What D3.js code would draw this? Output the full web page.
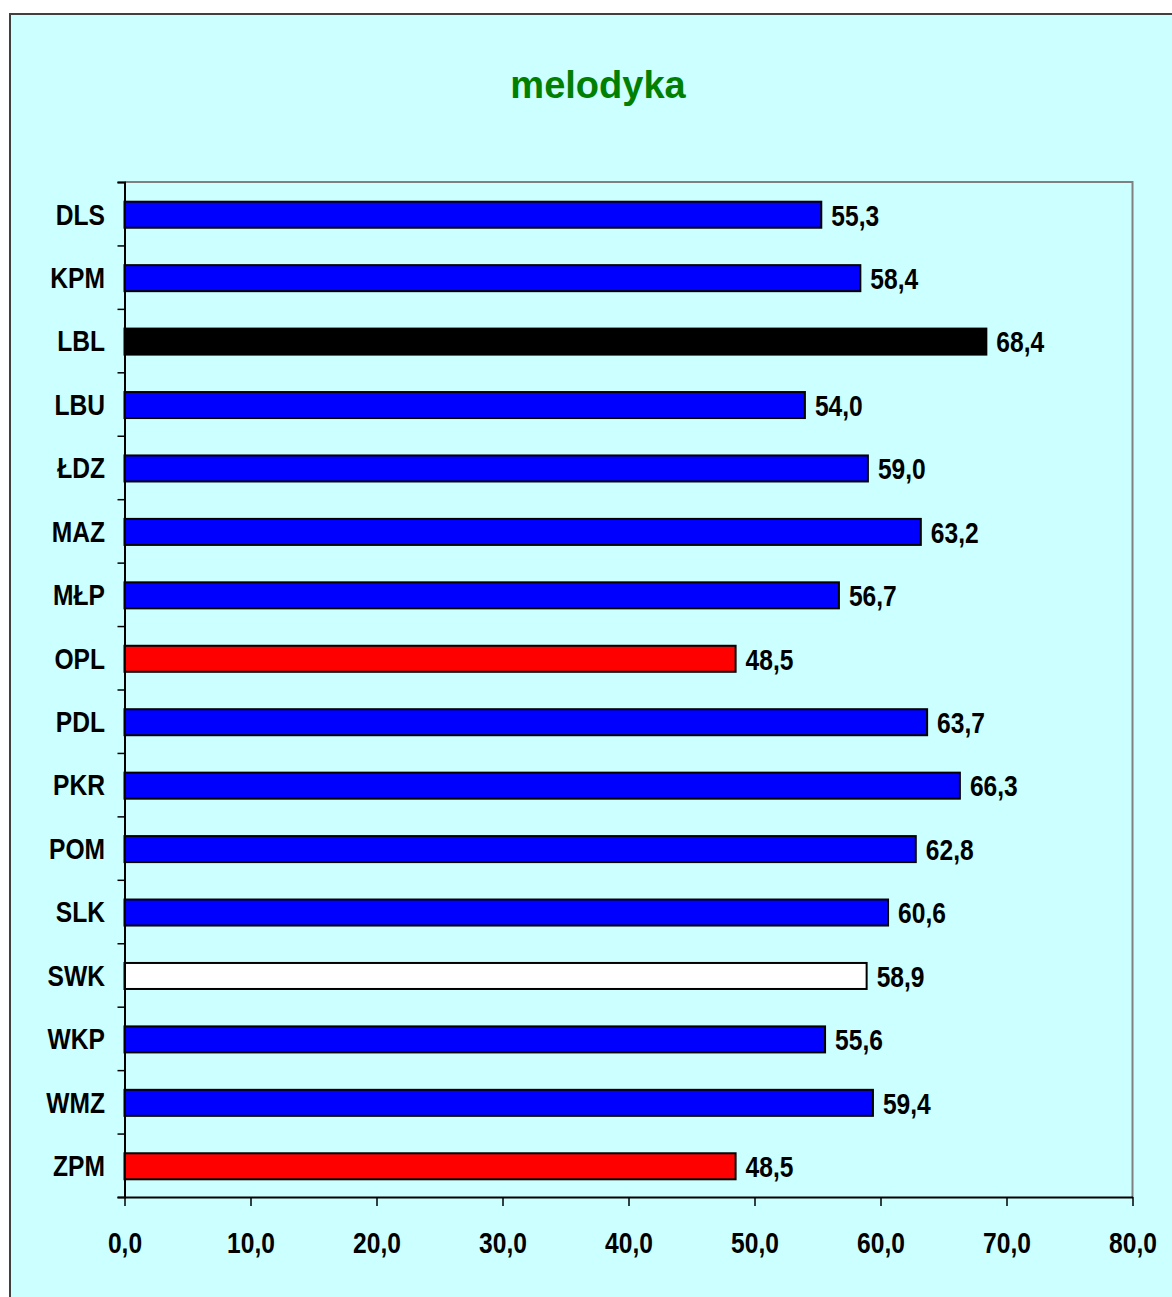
<!DOCTYPE html>
<meta charset="utf-8">
<style>
    body { margin: 0; background: #fff; }
    .cat text, .xaxis text, .val {
        font-family: "Liberation Sans Narrow", "Arial Narrow", "Liberation Sans", sans-serif;
        font-weight: bold;
        font-size: 30px;
        fill: #000;
        }
    .title {
        font-family: "Liberation Sans", Arial, sans-serif;
        font-weight: bold;
        font-size: 38px;
        fill: #008000;
        }
</style>
<body>
<script src="https://d3js.org/d3.v7.min.js"></script>
<script>
// data
var regions = ["DLS", "KPM", "LBL", "LBU", "ŁDZ", "MAZ", "MŁP", "OPL",
               "PDL", "PKR", "POM", "SLK", "SWK", "WKP", "WMZ", "ZPM"];
var scores  = [55.3, 58.4, 68.4, 54.0, 59.0, 63.2, 56.7, 48.5,
               63.7, 66.3, 62.8, 60.6, 58.9, 55.6, 59.4, 48.5];
var xTicks  = [0, 10, 20, 30, 40, 50, 60, 70, 80];
var chartTitle = "melodyka";

// fills for the bars that are not the default blue
var fills = { "LBL": "#000000", "OPL": "#ff0000", "ZPM": "#ff0000", "SWK": "#ffffff" };

// no narrow font installed, so squeeze the normal one
var narrow = " scale(0.82,1)";
var fmt = function(v) { return v.toFixed(1).replace(".", ","); };

// plot area
var W = 1172, H = 1297;
var margin = {top: 182, left: 124.5, right: 1132.5, bottom: 1197};

var svg = d3.select("body").append("svg")
    .attr("width", W)
    .attr("height", H);

// chart background + outer border
svg.append("rect")
    .attr("x", 10).attr("y", 14)
    .attr("width", W + 20).attr("height", H + 20)
    .attr("fill", "#ccffff")
    .attr("stroke", "#404040")
    .attr("stroke-width", 2);

svg.append("text")
    .attr("class", "title")
    .attr("x", 598).attr("y", 98)
    .attr("text-anchor", "middle")
    .text(chartTitle);

var x = d3.scaleLinear()
    .domain([0, 80])
    .range([margin.left, margin.right]);

var y = d3.scaleBand()
    .domain(regions)
    .range([margin.top, margin.bottom]);

// linear scale for the tick marks between categories
var yTick = d3.scaleLinear()
    .domain([0, regions.length])
    .range([margin.top, margin.bottom]);

// top and right border of plot area
svg.append("path")
    .attr("d", "M" + margin.left + "," + margin.top + "H" + margin.right + "V" + margin.bottom)
    .attr("fill", "none")
    .attr("stroke", "#808080")
    .attr("stroke-width", 2);

// bars
var barH = y.bandwidth() * 0.41;
svg.selectAll(".bar")
    .data(regions)
    .enter().append("rect")
    .attr("class", "bar")
    .attr("x", x(0))
    .attr("y", function(d) { return y(d) + (y.bandwidth() - barH) / 2 + 1; })
    .attr("width", function(d, i) { return x(scores[i]) - x(0); })
    .attr("height", barH)
    .attr("fill", function(d) { return fills[d] || "#0000ff"; })
    .attr("stroke", "#000")
    .attr("stroke-width", 2);

// value labels
svg.selectAll(".val")
    .data(regions)
    .enter().append("text")
    .attr("class", "val")
    .attr("transform", function(d, i) {
        return "translate(" + (x(scores[i]) + 10) + "," + (y(d) + y.bandwidth() / 2 + 1) + ")" + narrow; })
    .attr("dy", "0.36em")
    .text(function(d, i) { return fmt(scores[i]); });

// y axis: ticks at the category boundaries
var yAxis = svg.append("g")
    .attr("transform", "translate(" + margin.left + ",0)")
    .call(d3.axisLeft(yTick).tickValues(d3.range(regions.length + 1)).tickSize(7).tickFormat(""));
yAxis.select(".domain").attr("stroke", "#000").attr("stroke-width", 2);
yAxis.selectAll(".tick line").attr("stroke", "#000").attr("stroke-width", 1.5);

// category labels
svg.append("g")
    .attr("class", "cat")
    .selectAll("text")
    .data(regions)
    .enter().append("text")
    .attr("transform", function(d) {
        return "translate(105," + (y(d) + y.bandwidth() / 2) + ")" + narrow; })
    .attr("dy", "0.36em")
    .attr("text-anchor", "end")
    .text(function(d) { return d; });

// x axis
var xAxis = svg.append("g")
    .attr("class", "xaxis")
    .attr("transform", "translate(0," + margin.bottom + ")")
    .call(d3.axisBottom(x).tickValues(xTicks).tickSize(9).tickSizeOuter(0).tickPadding(26)
        .tickFormat(fmt));
xAxis.select(".domain").attr("stroke", "#000").attr("stroke-width", 2);
xAxis.selectAll(".tick line").attr("stroke", "#000").attr("stroke-width", 1.5);
xAxis.selectAll(".tick text")
    .attr("font-size", null).attr("font-family", null).attr("fill", "#000")
    .attr("transform", narrow);
</script>
</body>
